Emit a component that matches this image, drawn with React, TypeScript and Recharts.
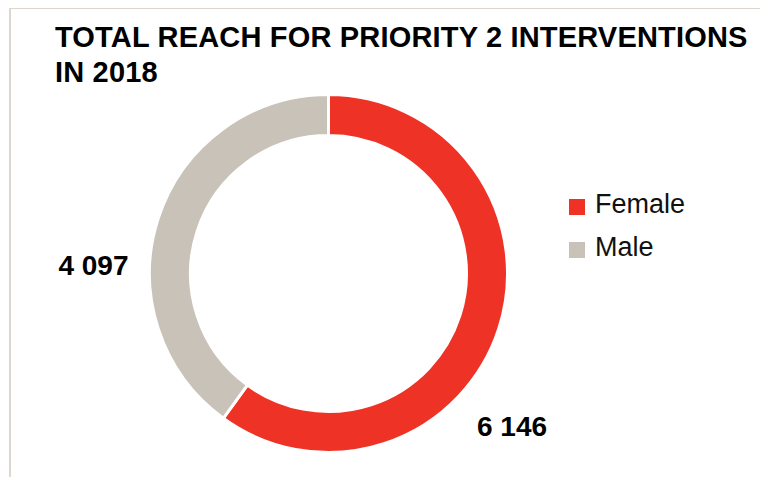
import { PieChart, Pie, Cell, Legend } from 'recharts';

const NAMES = ['Female', 'Male'];
const VALUES = [6146, 4097];
const COLORS = ['#EE3226', '#C9C2B8'];
const TITLE = ['TOTAL REACH FOR PRIORITY 2 INTERVENTIONS', 'IN 2018'];

const FONT = '"Liberation Sans", Arial, Helvetica, sans-serif';
const W = 760;
const H = 469;
const CX = 320.5;
const CY = 265.5;
const OUTER = 179;
const INNER = 138;

const data = NAMES.map((name, i) => ({ name, value: VALUES[i] }));

const fmt = (v: number) => String(v).replace(/\B(?=(\d{3})+(?!\d))/g, ' ');

// label placement relative to the pie centre
function renderLabel(props: any) {
  const { index, value } = props;
  const isMale = index === 1;
  const x = isMale ? CX - OUTER - 21 : CX + 148.5;
  const y = isMale ? CY + 1.5 : CY + 162.5;
  return (
    <text
      x={x}
      y={y}
      textAnchor={isMale ? 'end' : 'start'}
      fill="#000"
      style={{ fontFamily: FONT, fontSize: 28, fontWeight: 700 }}
    >
      {fmt(value)}
    </text>
  );
}

function renderLegend() {
  return (
    <div style={{ fontFamily: FONT, fontSize: 27, color: '#111', position: 'relative' }}>
      {NAMES.map((name, i) => (
        <div key={name} style={{ position: 'relative', height: 43 }}>
          <div
            style={{
              position: 'absolute',
              left: 0,
              top: 10,
              width: 16,
              height: 16,
              background: COLORS[i],
            }}
          />
          <div style={{ position: 'absolute', left: 26, top: 0, lineHeight: '30px', whiteSpace: 'nowrap' }}>
            {name}
          </div>
        </div>
      ))}
    </div>
  );
}

export default function App() {
  return (
    <div style={{ position: 'relative', width: W, height: H }}>
      <div
        style={{
          position: 'absolute',
          left: 1,
          top: -1,
          width: W,
          height: H + 10,
          borderTop: '2px solid #DCD6CF',
          borderLeft: '2px solid #DCD6CF',
          boxSizing: 'border-box',
        }}
      />
      <div
        style={{
          position: 'absolute',
          left: 47,
          top: 12,
          fontFamily: FONT,
          fontSize: 29,
          fontWeight: 700,
          letterSpacing: 0.18,
          lineHeight: '35px',
          color: '#000',
          whiteSpace: 'nowrap',
        }}
      >
        {TITLE.map((t) => (
          <div key={t}>{t}</div>
        ))}
      </div>
      <div style={{ position: 'absolute', left: 0, top: 0 }}>
        <PieChart width={W} height={H} margin={{ top: 0, right: 0, bottom: 0, left: 0 }}>
          <Pie
            data={data}
            dataKey="value"
            nameKey="name"
            cx={CX}
            cy={CY}
            outerRadius={OUTER}
            innerRadius={INNER}
            startAngle={90}
            endAngle={-270}
            stroke="#fff"
            strokeWidth={3}
            label={renderLabel}
            labelLine={false}
            isAnimationActive={false}
          >
            {data.map((d, i) => (
              <Cell key={d.name} fill={COLORS[i]} />
            ))}
          </Pie>
          <Legend
            content={renderLegend}
            wrapperStyle={{ position: 'absolute', left: 561, top: 181, width: 150 }}
          />
        </PieChart>
      </div>
    </div>
  );
}
